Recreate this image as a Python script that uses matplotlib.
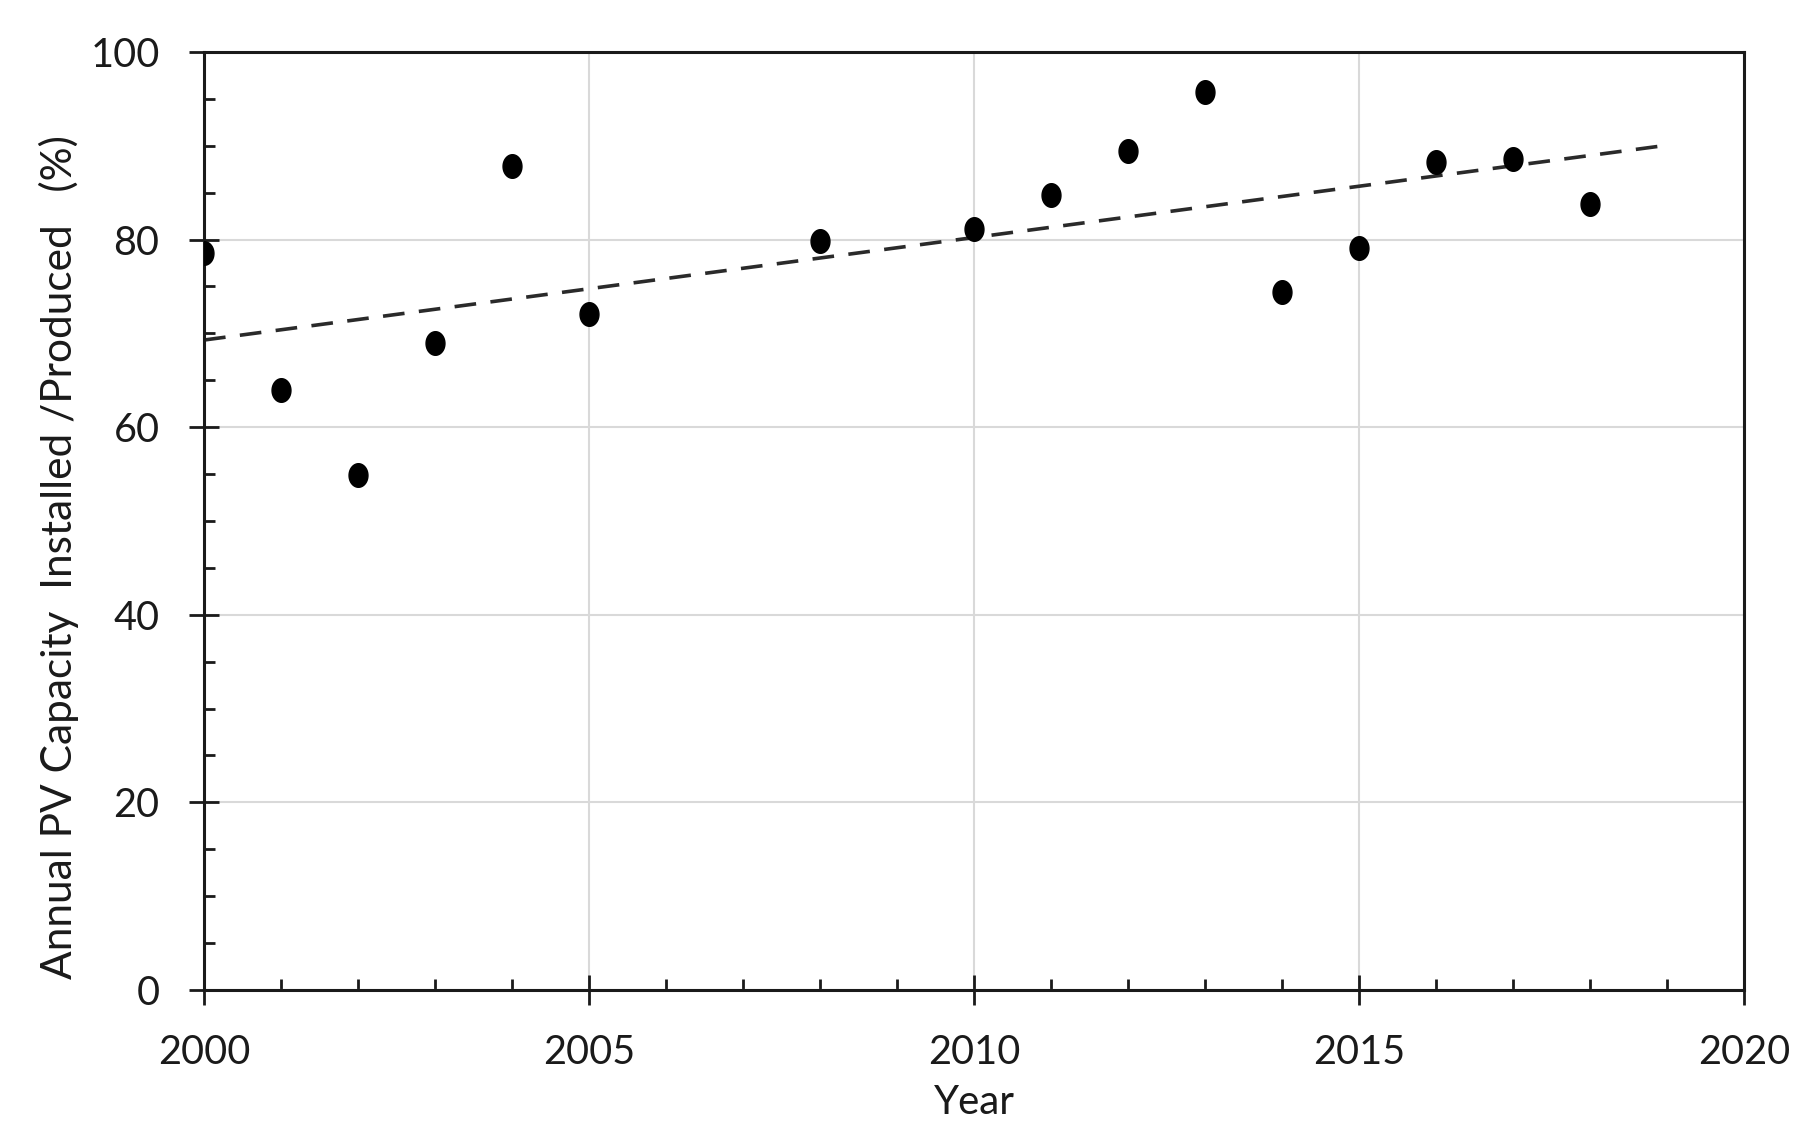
import numpy as np
import matplotlib
matplotlib.use("Agg")
import matplotlib.pyplot as plt
from matplotlib.path import Path
from matplotlib.ticker import MultipleLocator

# Data
years = [2000, 2001, 2002, 2003, 2004, 2005, 2008, 2010, 2011, 2012, 2013, 2014, 2015, 2016, 2017, 2018]
ratio = [78.6, 64.0, 54.9, 69.0, 87.8, 72.1, 79.9, 81.1, 84.8, 89.4, 95.7, 74.4, 79.1, 88.3, 88.6, 83.8]
trend_years = [2000, 2019]

plt.rcParams['font.family'] = ['Lato', 'DejaVu Sans']

fig = plt.figure(figsize=(18.17, 11.42), dpi=100)
ax = fig.add_axes([0.1123, 0.1331, 0.8475, 0.8214])

# slightly tall elliptical marker like the original
t = np.linspace(0, 2 * np.pi, 60)
ell = Path(np.column_stack([np.cos(t), 1.25 * np.sin(t)]), closed=True)

ax.plot(years, ratio, linestyle='none', marker=ell, markersize=17, color='black', zorder=3)

# linear trendline
k, b = np.polyfit(years, ratio, 1)
tx = np.array(trend_years)
ax.plot(tx, k * tx + b, color='#2a2a2a', lw=2.6, dashes=(6, 4), zorder=2)

ax.set_xlim(2000, 2020)
ax.set_ylim(0, 100)
ax.xaxis.set_major_locator(MultipleLocator(5))
ax.xaxis.set_minor_locator(MultipleLocator(1))
ax.yaxis.set_major_locator(MultipleLocator(20))
ax.yaxis.set_minor_locator(MultipleLocator(5))

ax.grid(True, which='major', color='#d9d9d9', lw=1.5, zorder=0)
ax.set_axisbelow(True)

for s in ax.spines.values():
    s.set_linewidth(2.2)
    s.set_color('#1a1a1a')

ax.tick_params(which='major', direction='inout', length=22, width=2, pad=21,
               labelsize=28.5, colors='#1a1a1a')
ax.tick_params(which='minor', direction='in', length=8, width=2, colors='#1a1a1a')

ax.set_xlabel('Year', fontsize=29, color='#1a1a1a', labelpad=9)
ax.set_ylabel('Annual PV Capacity  Installed /Produced   (%)', fontsize=30.5,
              color='#1a1a1a')
ax.yaxis.set_label_coords(-0.081, 0.462)

fig.savefig('out.png', dpi=100)
